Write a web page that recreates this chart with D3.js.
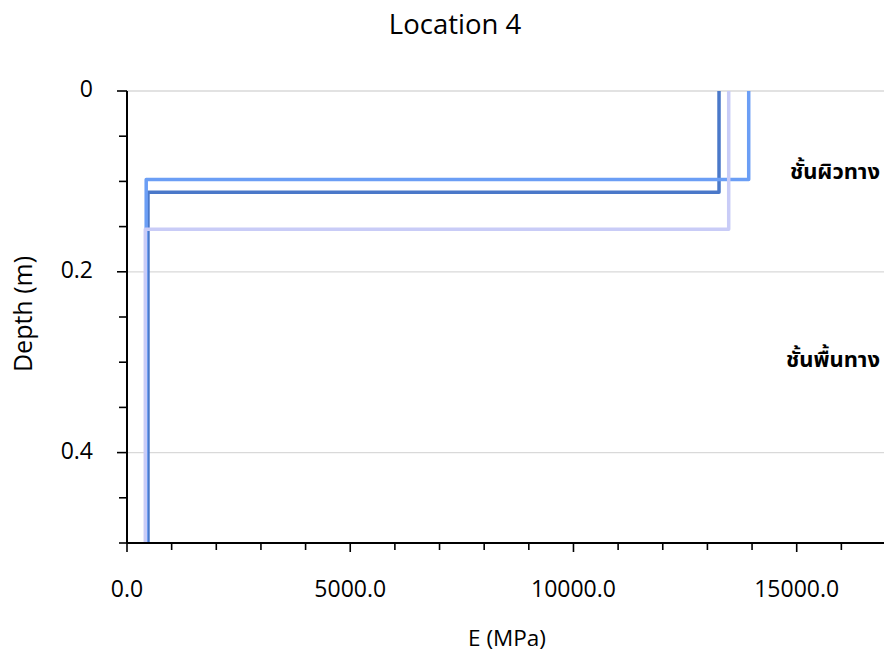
<!DOCTYPE html>
<html><head><meta charset="utf-8">
<script src="https://cdn.jsdelivr.net/npm/d3@7/dist/d3.min.js"></script>
<style>body{margin:0;background:#fff}svg{display:block}</style>
</head><body><svg id="c" width="884" height="654"></svg>
<script>
// data
const seriesNames = ["S1", "S2", "S3"];
const seriesColors = ["#4a78c9", "#6b9ef5", "#c9ccf7"];
// each series: [E top layer, interface depth, E base layer]
const topE = [13260, 13925, 13477];
const interfaceDepth = [0.112, 0.098, 0.153];
const baseE = [470, 430, 410];
const maxDepth = 0.5;
const xTicksMajor = [0, 5000, 10000, 15000];
const yTicksMajor = [0, 0.2, 0.4];
const layerLabels = ["ชั้นผิวทาง", "ชั้นพื้นทาง"];
const layerLabelDepths = [0.0975, 0.3055];

const svg = d3.select("#c");
const L = 127, R = 886, T = 91, B = 543;
const x = d3.scaleLinear().domain([0, 17000]).range([L, R]);
const y = d3.scaleLinear().domain([0, 0.5]).range([T, B]);
const font = "'Open Sans','Noto Sans',sans-serif";

// gridlines
svg.append("g").selectAll("line").data(yTicksMajor).join("line")
  .attr("x1", L).attr("x2", 884).attr("y1", d => y(d)).attr("y2", d => y(d))
  .attr("stroke", "#d9d9d9").attr("stroke-width", 1.3);

// series
const line = d3.line().x(d => x(d[0])).y(d => y(d[1]));
seriesNames.forEach((s, i) => {
  const pts = [[topE[i], 0], [topE[i], interfaceDepth[i]], [baseE[i], interfaceDepth[i]], [baseE[i], maxDepth]];
  svg.append("path").attr("d", line(pts)).attr("fill", "none")
    .attr("stroke", seriesColors[i]).attr("stroke-width", 3.5)
    .attr("stroke-linejoin", "round");
});

// x axis
const xMinor = d3.range(0, 17001, 1000);
const gx = svg.append("g").attr("transform", `translate(0,${B})`);
gx.append("line").attr("x1", L).attr("x2", 884).attr("stroke", "#000").attr("stroke-width", 2);
gx.selectAll("line.mi").data(xMinor).join("line").attr("class", "mi")
  .attr("x1", d => x(d)).attr("x2", d => x(d)).attr("y1", 0)
  .attr("y2", d => xTicksMajor.includes(d) ? 9 : 7)
  .attr("stroke", "#000").attr("stroke-width", 1.6);
gx.selectAll("text").data(xTicksMajor).join("text")
  .attr("x", d => x(d)).attr("y", 54).attr("text-anchor", "middle")
  .attr("font-family", font).attr("font-size", 23).attr("fill", "#000")
  .text(d => d3.format(".1f")(d));

// y axis
const yMinor = d3.range(0, 0.5001, 0.05);
const gy = svg.append("g");
gy.append("line").attr("x1", L).attr("x2", L).attr("y1", T).attr("y2", B).attr("stroke", "#000").attr("stroke-width", 2);
gy.selectAll("line.mi").data(yMinor).join("line").attr("class", "mi")
  .attr("x1", d => L - (yTicksMajor.some(v => Math.abs(v - d) < 1e-9) ? 10 : 8)).attr("x2", L)
  .attr("y1", d => y(d)).attr("y2", d => y(d)).attr("stroke", "#000").attr("stroke-width", 1.6);
gy.selectAll("text").data(yTicksMajor).join("text")
  .attr("x", 93).attr("y", d => y(d) + 6).attr("text-anchor", "end")
  .attr("font-family", font).attr("font-size", 23).attr("fill", "#000")
  .text(d => d === 0 ? "0" : String(d));

// title & axis labels
svg.append("text").attr("x", 455).attr("y", 34).attr("text-anchor", "middle")
  .attr("font-family", font).attr("font-size", 27.5).attr("fill", "#000").text("Location 4");
svg.append("text").attr("x", 507).attr("y", 646).attr("text-anchor", "middle")
  .attr("font-family", font).attr("font-size", 22.5).attr("fill", "#000").text("E (MPa)");
svg.append("text").attr("transform", "translate(32,314) rotate(-90)").attr("text-anchor", "middle")
  .attr("font-family", font).attr("font-size", 25).attr("fill", "#000").text("Depth (m)");

// layer labels
svg.selectAll("text.layer").data(layerLabels).join("text").attr("class", "layer")
  .attr("x", 880).attr("y", (d, i) => y(layerLabelDepths[i]))
  .attr("text-anchor", "end").attr("font-weight", "bold")
  .attr("font-family", "'Noto Sans Thai','Noto Sans','DejaVu Sans',sans-serif").attr("font-size", 22)
  .attr("fill", "#000").text(d => d);
</script></body></html>
